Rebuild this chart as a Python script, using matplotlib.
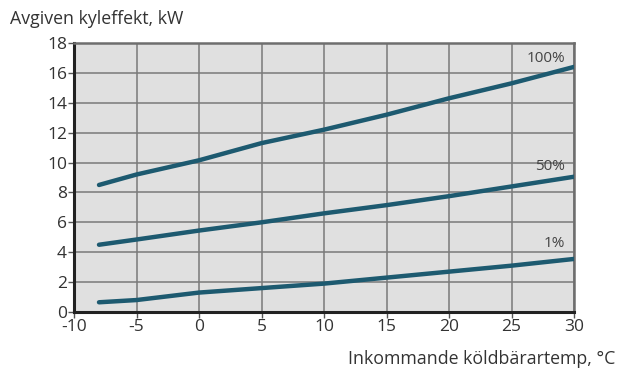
import matplotlib
matplotlib.use('Agg')
import matplotlib.pyplot as plt

# temperature of incoming brine, degC
temps = [-8, -5, 0, 5, 10, 15, 20, 25, 30]

# cooling output, kW
cap_100 = [8.5, 9.2, 10.15, 11.3, 12.2, 13.2, 14.3, 15.3, 16.4]
cap_50 = [4.5, 4.85, 5.45, 6.0, 6.6, 7.15, 7.75, 8.4, 9.05]
cap_1 = [0.65, 0.8, 1.3, 1.6, 1.9, 2.3, 2.7, 3.1, 3.55]

series = [('100%', cap_100, 16.95), ('50%', cap_50, 9.75), ('1%', cap_1, 4.6)]

xticks = [-10, -5, 0, 5, 10, 15, 20, 25, 30]
yticks = [0, 2, 4, 6, 8, 10, 12, 14, 16, 18]

plt.rcParams['font.family'] = ['Open Sans', 'DejaVu Sans']
plt.rcParams['axes.unicode_minus'] = False
text_color = '#333333'
line_color = '#1d5a70'

fig = plt.figure(figsize=(6.19, 3.71), dpi=100)
ax = fig.add_axes([74 / 619, 59 / 371, 500 / 619, 269 / 371])
ax.set_facecolor('#e0e0e0')

for name, vals, label_y in series:
    ax.plot(temps, vals, color=line_color, lw=3.2, solid_capstyle='round', zorder=3)
    ax.text(29.3, label_y, name, ha='right', va='center', fontsize=11, color='#444444')

ax.set_xlim(-10, 30)
ax.set_ylim(0, 18)
ax.set_xticks(xticks)
ax.set_yticks(yticks)
ax.grid(True, color='#7a7a7a', lw=1.1)
ax.set_axisbelow(True)

ax.tick_params(length=4, width=1, color='#555555', labelsize=12.5, labelcolor=text_color, pad=1)
for side in ['left', 'bottom']:
    ax.spines[side].set_color('#222222')
    ax.spines[side].set_linewidth(2.2)
for side in ['top', 'right']:
    ax.spines[side].set_color('#6e6e6e')
    ax.spines[side].set_linewidth(1.8)

fig.text(10 / 619, 1 - 19 / 371, 'Avgiven kyleffekt, kW', ha='left', va='center',
         fontsize=12.8, color=text_color)
fig.text(615 / 619, 1 - 359 / 371, 'Inkommande köldbärartemp, °C', ha='right', va='center',
         fontsize=12.8, color=text_color)

fig.savefig('out.png', dpi=100)
